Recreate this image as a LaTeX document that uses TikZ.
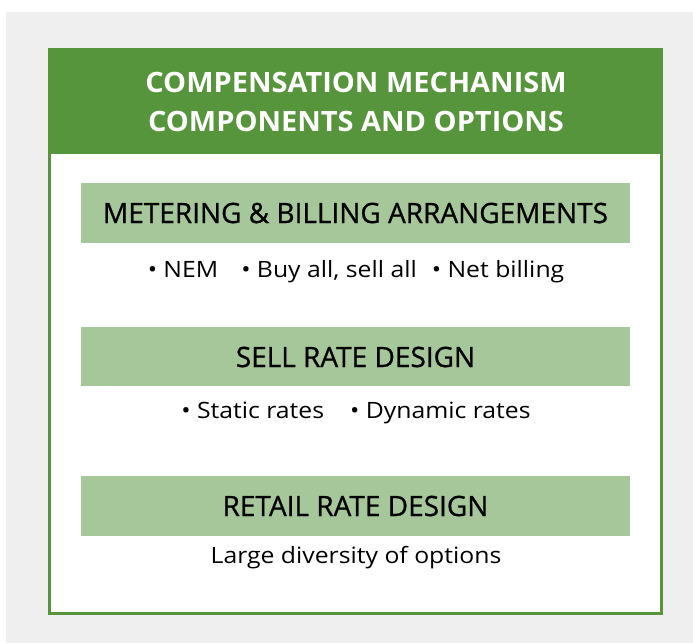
\documentclass[tikz,border=0pt]{standalone}
\usepackage{fontspec}
\setmainfont{Open Sans}
\newfontfamily\headfont{Open Sans}[UprightFont=*-Bold,FakeStretch=1.035]
\newfontfamily\bandfont{Open Sans}[FakeBold=0.8]
\newfontfamily\itemfont{Open Sans}[FakeStretch=1.1]
\definecolor{leaf}{HTML}{56953B}
\definecolor{sage}{HTML}{A6C799}
\definecolor{paper}{HTML}{EFEFEF}
\begin{document}
\begin{tikzpicture}[x=1pt,y=1pt,
  band/.style={fill=sage,draw=none},
  bandtext/.style={font=\bandfont\fontsize{28}{30}\selectfont,text=black,inner sep=0pt},
  itemtext/.style={font=\itemfont\fontsize{22.5}{26}\selectfont,text=black,inner sep=0pt},
  headtext/.style={font=\headfont\fontsize{28}{39}\selectfont,text=white,align=center,inner sep=0pt}]
\useasboundingbox (0,0) rectangle (693,-643);
% grey backdrop
\fill[paper] (6,-12) rectangle (693,-643);
% framed panel
\fill[white] (48,-48) rectangle (663,-615);
\fill[leaf] (48,-48) rectangle (663,-154);
\draw[leaf,line width=3pt] (49.5,-49.5) rectangle (661.5,-613.5);
% title
\node[headtext] (title) at (356,-102) {COMPENSATION MECHANISM\\COMPONENTS AND OPTIONS};
% metering band
\path[band] (81,-183) rectangle (630,-243);
\node[bandtext] (metering) at (355.5,-213) {METERING \& BILLING ARRANGEMENTS};
\node[itemtext] (meteringopts) at (356,-272) {\textbullet\ NEM\hspace{23pt}\textbullet\ Buy all, sell all\hspace{15pt}\textbullet\ Net billing};
% sell rate band
\path[band] (81,-327) rectangle (630,-386);
\node[bandtext] (sellrate) at (355.5,-357) {SELL RATE DESIGN};
\node[itemtext] (sellopts) at (356,-413) {\textbullet\ Static rates\hspace{26pt}\textbullet\ Dynamic rates};
% retail rate band
\path[band] (81,-476) rectangle (630,-536);
\node[bandtext] (retailrate) at (355.5,-506) {RETAIL RATE DESIGN};
\node[itemtext] (retailopts) at (356,-558) {Large diversity of options};
\end{tikzpicture}
\end{document}
